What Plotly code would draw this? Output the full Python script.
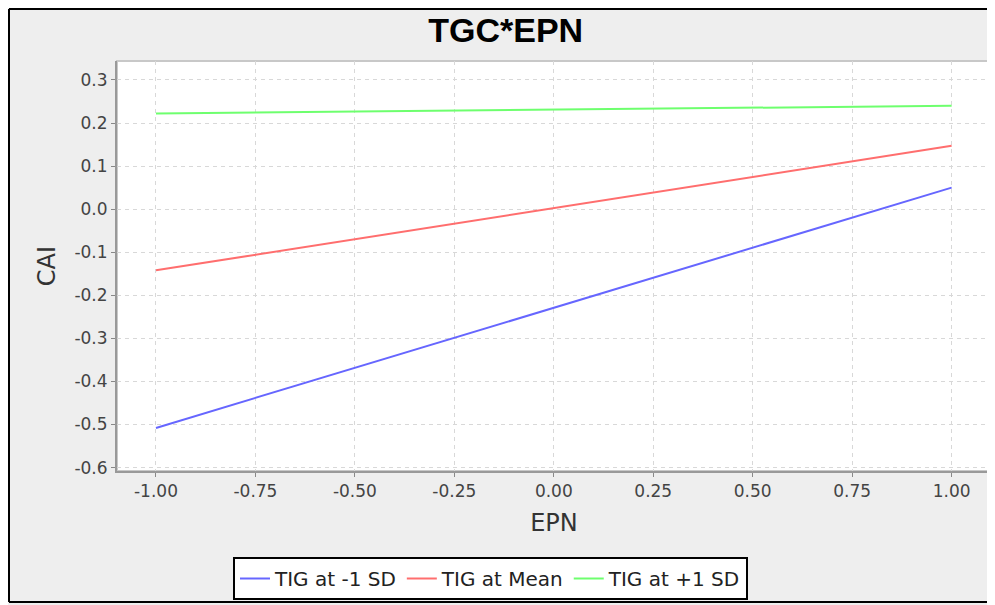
import plotly.graph_objects as go

# Data
epn = [-1.0, 1.0]
tig_minus_1sd = [-0.508, 0.050]
tig_mean = [-0.142, 0.147]
tig_plus_1sd = [0.222, 0.240]

series_names = ["TIG at -1 SD", "TIG at Mean", "TIG at +1 SD"]
series_colors = ["#6666FF", "#FF6E6E", "#6EFF6E"]

x_tickvals = [-1.0, -0.75, -0.5, -0.25, 0.0, 0.25, 0.5, 0.75, 1.0]
x_ticktext = ["-1.00", "-0.75", "-0.50", "-0.25", "0.00", "0.25", "0.50", "0.75", "1.00"]
y_tickvals = [-0.6, -0.5, -0.4, -0.3, -0.2, -0.1, 0.0, 0.1, 0.2, 0.3]
y_ticktext = ["-0.6", "-0.5", "-0.4", "-0.3", "-0.2", "-0.1", "0.0", "0.1", "0.2", "0.3"]

# page body has an 8px margin; the figure starts at (8, 8) in the window
OFF = 8
W, H = 995 - OFF, 605 - OFF
L, R, T, B = 117 - OFF, 4, 61 - OFF, H - (471 - OFF)
pw = W - L - R
ph = H - T - B

def px_x(px):  # window px -> paper
    return (px - OFF - L) / pw

def px_y(py):
    return (H - B - (py - OFF)) / ph

fig = go.Figure()
for name, ys, col in zip(series_names, [tig_minus_1sd, tig_mean, tig_plus_1sd], series_colors):
    fig.add_trace(go.Scatter(x=epn, y=ys, mode="lines", name=name,
                             line=dict(color=col, width=2)))

tick_font = dict(family="DejaVu Sans", size=17, color="#444444")
title_font = dict(family="DejaVu Sans", size=24, color="#333333")

border = dict(color="black", width=2)
fig.update_layout(
    width=W, height=H,
    margin=dict(l=L, r=R, t=T, b=B, pad=0),
    paper_bgcolor="#EEEEEE",
    plot_bgcolor="white",
    title=dict(text="<b>TGC*EPN</b>", x=(505.7 - OFF) / W, xref="container", xanchor="center",
               y=1 - (29.7 - OFF) / H, yref="container", yanchor="middle",
               font=dict(family="Liberation Sans", size=34, color="black")),
    xaxis=dict(range=[-1.098, 1.099], tickvals=x_tickvals, ticktext=x_ticktext,
               ticks="outside", ticklen=4, tickcolor="#888888", tickwidth=1,
               showline=True, linecolor="#999999", linewidth=2,
               showgrid=True, gridcolor="#D8D8D8", gridwidth=1, griddash="4px,4px",
               zeroline=False, tickfont=tick_font,
               title=dict(text="EPN", font=title_font, standoff=14)),
    yaxis=dict(range=[-0.608, 0.344], tickvals=y_tickvals, ticktext=y_ticktext,
               ticks="outside", ticklen=4, tickcolor="#888888", tickwidth=1,
               showline=True, linecolor="#999999", linewidth=2,
               showgrid=True, gridcolor="#D8D8D8", gridwidth=1, griddash="4px,4px",
               zeroline=False, tickfont=tick_font,
               title=dict(text="CAI", font=title_font, standoff=12)),
    showlegend=True,
    legend=dict(orientation="h", x=px_x(233), xanchor="left", y=px_y(557), yanchor="top",
                bgcolor="white", bordercolor="black", borderwidth=2,
                font=dict(family="DejaVu Sans", size=20, color="#222222"),
                itemwidth=30, tracegroupgap=0),
    shapes=[
        dict(type="line", xref="paper", yref="paper", layer="below",
             x0=px_x(9), x1=px_x(9), y0=px_y(602), y1=px_y(9), line=border),
        dict(type="line", xref="paper", yref="paper", layer="below",
             x0=px_x(9), x1=px_x(1000), y0=px_y(9), y1=px_y(9), line=border),
        dict(type="line", xref="paper", yref="paper", layer="below",
             x0=px_x(9), x1=px_x(1000), y0=px_y(602), y1=px_y(602), line=border),
        dict(type="rect", xref="paper", yref="paper", layer="below",
             x0=0, x1=1, y0=0, y1=1,
             fillcolor="rgba(0,0,0,0)", line=dict(color="#C8C8C8", width=2)),
    ],
)

fig.write_html("out.html")
